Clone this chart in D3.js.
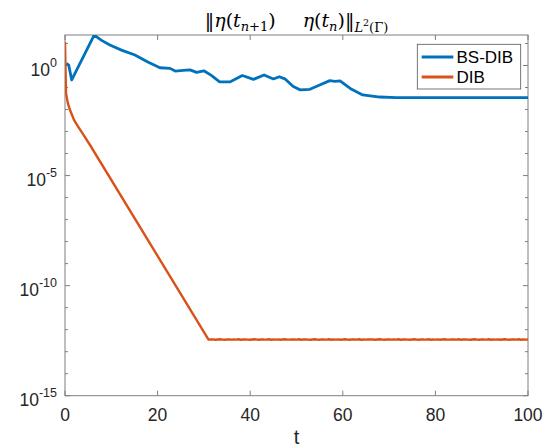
<!DOCTYPE html>
<html>
<head>
<meta charset="utf-8">
<script src="https://cdn.jsdelivr.net/npm/d3@7"></script>
<style>
  html, body { margin: 0; padding: 0; background: #fff; }
  svg { display: block; }
</style>
</head>
<body>
<svg id="chart" width="551" height="448"></svg>
<script>
// ---- data ----
const seriesNames = ["BS-DIB", "DIB"];
const seriesColors = ["#0072BD", "#D95319"];

const tBS = [0.3, 0.8, 1.45, 6.3, 8.0, 9.7, 12.2, 15.1, 16.5, 18.0, 20.5, 22.7, 23.8, 25.5, 27.0, 28.4, 30.0,
  31.6, 33.4, 35.6, 38.3, 40.7, 43.0, 45.0, 46.3, 47.6, 49.3, 50.8, 52.9, 55.0, 57.2, 58.3, 59.4,
  61.9, 64.3, 68.0, 71.6, 80.0, 100.0];
const vBS = [1.26, 1.05, 0.22, 24, 13.5, 8.5, 5.0, 3.0, 2.1, 1.4, 0.79, 0.74, 0.56, 0.60, 0.63, 0.49, 0.575,
  0.355, 0.18, 0.18, 0.35, 0.235, 0.37, 0.245, 0.31, 0.24, 0.11, 0.078, 0.083, 0.13, 0.205, 0.19, 0.20,
  0.083, 0.046, 0.037, 0.035, 0.035, 0.035];

const tDIB = [0, 0.22, 0.6, 1.08, 2.0, 2.9, 4.0, 5.4, 31.0];
const vDIB = [12, 0.055, 0.02, 0.0095, 0.0032, 0.0016, 7.1e-4, 2.45e-4, 3.55e-13];

// noisy floor of DIB, t = 31.5 ... 100 (step 0.5)
const dibFloor = [
  3.55e-13,3.62e-13,3.50e-13,3.58e-13,3.66e-13,3.52e-13,3.47e-13,3.60e-13,3.63e-13,3.51e-13,
  3.59e-13,3.54e-13,3.65e-13,3.50e-13,3.58e-13,3.62e-13,3.53e-13,3.47e-13,3.59e-13,3.66e-13,
  3.54e-13,3.50e-13,3.63e-13,3.57e-13,3.53e-13,3.65e-13,3.50e-13,3.58e-13,3.54e-13,3.62e-13,
  3.47e-13,3.59e-13,3.66e-13,3.54e-13,3.51e-13,3.63e-13,3.58e-13,3.53e-13,3.65e-13,3.50e-13,
  3.58e-13,3.62e-13,3.54e-13,3.47e-13,3.59e-13,3.66e-13,3.53e-13,3.50e-13,3.63e-13,3.57e-13,
  3.54e-13,3.65e-13,3.50e-13,3.58e-13,3.54e-13,3.62e-13,3.47e-13,3.59e-13,3.66e-13,3.53e-13,
  3.50e-13,3.63e-13,3.58e-13,3.54e-13,3.65e-13,3.50e-13,3.58e-13,3.54e-13,3.60e-13,3.55e-13,
  3.62e-13,3.50e-13,3.58e-13,3.66e-13,3.52e-13,3.47e-13,3.60e-13,3.63e-13,3.51e-13,3.59e-13,
  3.54e-13,3.65e-13,3.50e-13,3.58e-13,3.62e-13,3.53e-13,3.47e-13,3.59e-13,3.66e-13,3.54e-13,
  3.50e-13,3.63e-13,3.57e-13,3.53e-13,3.65e-13,3.50e-13,3.58e-13,3.54e-13,3.62e-13,3.47e-13,
  3.59e-13,3.66e-13,3.54e-13,3.51e-13,3.63e-13,3.58e-13,3.53e-13,3.65e-13,3.50e-13,3.58e-13,
  3.62e-13,3.54e-13,3.47e-13,3.59e-13,3.66e-13,3.53e-13,3.50e-13,3.63e-13,3.57e-13,3.54e-13,
  3.65e-13,3.50e-13,3.58e-13,3.54e-13,3.62e-13,3.47e-13,3.59e-13,3.66e-13,3.53e-13,3.50e-13,
  3.63e-13,3.58e-13,3.54e-13,3.65e-13,3.50e-13,3.58e-13,3.54e-13,3.60e-13];
const tFloor = d3.range(dibFloor.length).map(i => 31.5 + i * 0.5);

const xTicks = [0, 20, 40, 60, 80, 100];
const yTickExps = [0, -5, -10, -15];
const yMinorExps = d3.range(-15, 2);

// ---- layout ----
const L = 65, R = 528, T = 35, B = 395.7;
const svg = d3.select("#chart");
const x = d3.scaleLinear().domain([0, 100]).range([L, R]);
const y = d3.scaleLog().domain([1e-15, 24.3]).range([B, T]);

const axisColor = "#7f7f7f";
const textColor = "#262626";

svg.append("defs").append("clipPath").attr("id", "clip")
  .append("rect").attr("x", L).attr("y", T).attr("width", R - L).attr("height", B - T);

svg.append("rect").attr("x", L).attr("y", T).attr("width", R - L).attr("height", B - T)
  .attr("fill", "none").attr("stroke", axisColor).attr("stroke-width", 1);

const gx = svg.append("g");
xTicks.forEach(v => {
  const px = x(v);
  gx.append("line").attr("x1", px).attr("x2", px).attr("y1", B).attr("y2", B - 5).attr("stroke", axisColor);
  gx.append("line").attr("x1", px).attr("x2", px).attr("y1", T).attr("y2", T + 5).attr("stroke", axisColor);
  gx.append("text").attr("x", px).attr("y", B + 25).attr("text-anchor", "middle")
    .attr("font-family", "Liberation Sans, Arial, sans-serif").attr("font-size", 17.5)
    .attr("fill", textColor).text(v);
});

const gy = svg.append("g");
yMinorExps.forEach(e => {
  const v = Math.pow(10, e);
  if (v > y.domain()[1]) return;
  const py = y(v);
  const major = yTickExps.includes(e);
  const len = major ? 5 : 3;
  gy.append("line").attr("x1", L).attr("x2", L + len).attr("y1", py).attr("y2", py).attr("stroke", axisColor);
  gy.append("line").attr("x1", R).attr("x2", R - len).attr("y1", py).attr("y2", py).attr("stroke", axisColor);
});
yTickExps.forEach(e => {
  const py = y(Math.pow(10, e));
  const t = gy.append("text").attr("x", L - 8).attr("y", py + 10).attr("text-anchor", "end")
    .attr("font-family", "Liberation Sans, Arial, sans-serif").attr("fill", textColor);
  t.append("tspan").attr("font-size", 17.5).text("10");
  t.append("tspan").attr("font-size", 12.5).attr("dy", -9).text(e);
});

svg.append("text").attr("x", (L + R) / 2).attr("y", 444).attr("text-anchor", "middle")
  .attr("font-family", "Liberation Sans, Arial, sans-serif").attr("font-size", 20)
  .attr("fill", textColor).text("t");

// title
const titleParts = [
  ["‖", false, 19, 0, 0],
  ["η", true, 19, 0, 0],
  ["(", false, 19, 0, 0],
  ["t", true, 19, 0, 0],
  ["n", true, 13, 4, 0],
  ["+1", false, 13, 4, 0],
  [")", false, 19, 0, 0],
  ["η", true, 19, 0, 27],
  ["(", false, 19, 0, 0],
  ["t", true, 19, 0, 0],
  ["n", true, 13, 4, 0],
  [")", false, 19, 0, 0],
  ["‖", false, 19, 0, 0],
  ["L", true, 13, 5, 0],
  ["2", false, 9.5, -1, 0],
  ["(Γ)", false, 13, 5, 0]
];
const title = svg.append("text").attr("x", (L + R) / 2).attr("y", 27).attr("text-anchor", "middle")
  .attr("font-family", "DejaVu Serif, Liberation Serif, serif").attr("fill", "#000");
let prevOff = 0;
titleParts.forEach(([s, it, fs, off, dx]) => {
  const ts = title.append("tspan").attr("font-size", fs).attr("dy", off - prevOff)
    .attr("font-style", it ? "italic" : "normal").text(s);
  if (dx) ts.attr("dx", dx);
  prevOff = off;
});

const line = d3.line().x(d => x(d[0])).y(d => y(d[1]));
const plot = svg.append("g").attr("clip-path", "url(#clip)");
const bsData = tBS.map((t, i) => [t, vBS[i]]);
const dibData = tDIB.map((t, i) => [t, vDIB[i]]).concat(tFloor.map((t, i) => [t, dibFloor[i]]));

plot.append("path").attr("d", line(bsData)).attr("fill", "none")
  .attr("stroke", seriesColors[0]).attr("stroke-width", 2.8).attr("stroke-linejoin", "round");
plot.append("path").attr("d", line(dibData)).attr("fill", "none")
  .attr("stroke", seriesColors[1]).attr("stroke-width", 2.4).attr("stroke-linejoin", "round");

const lg = svg.append("g");
lg.append("rect").attr("x", 417.3).attr("y", 44.3).attr("width", 103.4).attr("height", 44.7)
  .attr("fill", "#fff").attr("stroke", "#555").attr("stroke-width", 0.8);
seriesNames.forEach((n, i) => {
  const cy = 57 + i * 20;
  lg.append("line").attr("x1", 421.7).attr("x2", 453.3).attr("y1", cy).attr("y2", cy)
    .attr("stroke", seriesColors[i]).attr("stroke-width", 2.8);
  lg.append("text").attr("x", 456.5).attr("y", cy + 6.3)
    .attr("font-family", "Liberation Sans, Arial, sans-serif").attr("font-size", 17)
    .attr("fill", "#000").text(n);
});
</script>
</body>
</html>
